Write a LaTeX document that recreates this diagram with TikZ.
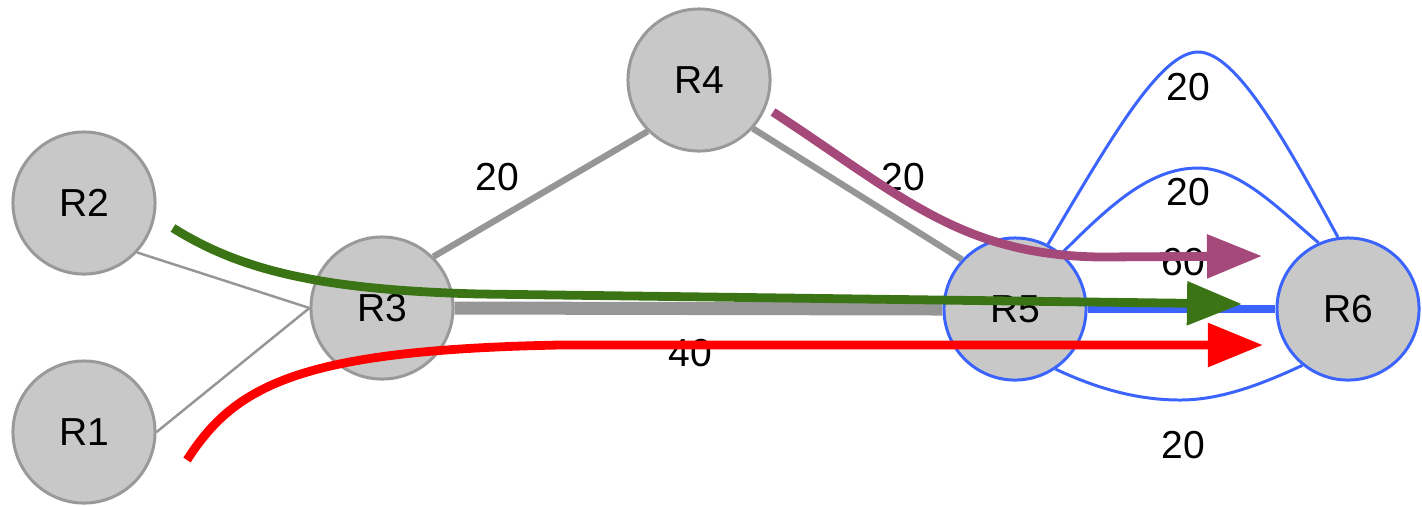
\documentclass[tikz,border=0pt]{standalone}
\usepackage{fontspec}
\setmainfont{Liberation Sans}
\usetikzlibrary{arrows.meta}
\definecolor{nodefill}{RGB}{200,200,200}
\definecolor{nodeedge}{RGB}{153,153,153}
\definecolor{edgegray}{RGB}{150,150,150}
\definecolor{lblue}{RGB}{59,100,255}
\definecolor{pgreen}{RGB}{58,116,20}
\definecolor{pred}{RGB}{255,0,0}
\definecolor{ppurple}{RGB}{165,73,122}
\begin{document}
\begin{tikzpicture}[x=0.01cm,y=-0.01cm,
  router/.style={circle, minimum size=1.42cm, inner sep=0pt, fill=nodefill, draw=nodeedge, line width=0.85pt, font=\fontsize{11.1pt}{13pt}\selectfont},
  blrouter/.style={router, draw=lblue},
  lbl/.style={font=\fontsize{11.1pt}{13pt}\selectfont, inner sep=0pt},
  linkthin/.style={draw=edgegray, line width=0.7pt},
  linkmid/.style={draw=edgegray, line width=1.8pt},
  linkthick/.style={draw=edgegray, line width=3.7pt},
  bluelink/.style={draw=lblue, line width=2.3pt},
  bluearc/.style={draw=lblue, line width=0.85pt},
  flow/.style={line width=2.5pt, -{Triangle[length=0.55cm, width=0.42cm]}},
]
\useasboundingbox (0,0) rectangle (1422,505);
% routers
\node[router] (R2) at (84,203) {R2};
\node[router] (R1) at (84,432) {R1};
\node[router] (R3) at (382,308) {R3};
\node[router] (R4) at (699,80) {R4};
\node[blrouter] (R5) at (1015,309) {R5};
\node[blrouter] (R6) at (1348,309) {R6};
% links
\draw[linkthin] (R2.-43) -- (R3.west);
\draw[linkthin] (R1.east) -- (R3.west);
\draw[linkmid] (R3.45) -- (R4.225);
\draw[linkmid] (R4.-42) -- (R5.137);
\draw[linkthick] (R3.east) -- (R5.west);
\draw[bluelink] (R5.east) -- (R6.west);
\coordinate (topPeak) at (1198,52);
\coordinate (midPeak) at (1198,168);
\coordinate (botDip) at (1180,400);
\draw[bluearc] (R5.63) .. controls (1110,140) and (1160,52) .. (topPeak)
  .. controls (1236,52) and (1285,140) .. (R6.98);
\draw[bluearc] (R5.50) .. controls (1110,205) and (1150,168) .. (midPeak)
  .. controls (1240,168) and (1280,210) .. (R6.114);
\draw[bluearc] (R5.-56) .. controls (1100,390) and (1140,400) .. (botDip)
  .. controls (1220,400) and (1260,385) .. (R6.-129);
% labels
\node[lbl] (l34) at (497,177) {20};
\node[lbl] (l45) at (903,177) {20};
\node[lbl] (l35) at (690,353) {40};
\node[lbl] (l56top) at (1188,87) {20};
\node[lbl] (l56mid) at (1188,192) {20};
\node[lbl] (l56dir) at (1183,262) {60};
\node[lbl] (l56bot) at (1183,445) {20};
% flows
\coordinate (gS) at (173,228);
\coordinate (gE) at (1242,304);
\coordinate (rS) at (187,460);
\coordinate (rE) at (1263,345);
\coordinate (pS) at (773,112);
\coordinate (pE) at (1262,256);
\draw[flow, draw=pgreen] (gS) .. controls (240,270) and (320,290) .. (480,294) -- (gE);
\draw[flow, draw=pred] (rS) .. controls (235,385) and (300,350) .. (560,345) -- (rE);
\draw[flow, draw=ppurple] (pS) .. controls (900,195) and (960,255) .. (1100,257) -- (pE);
\end{tikzpicture}
\end{document}
